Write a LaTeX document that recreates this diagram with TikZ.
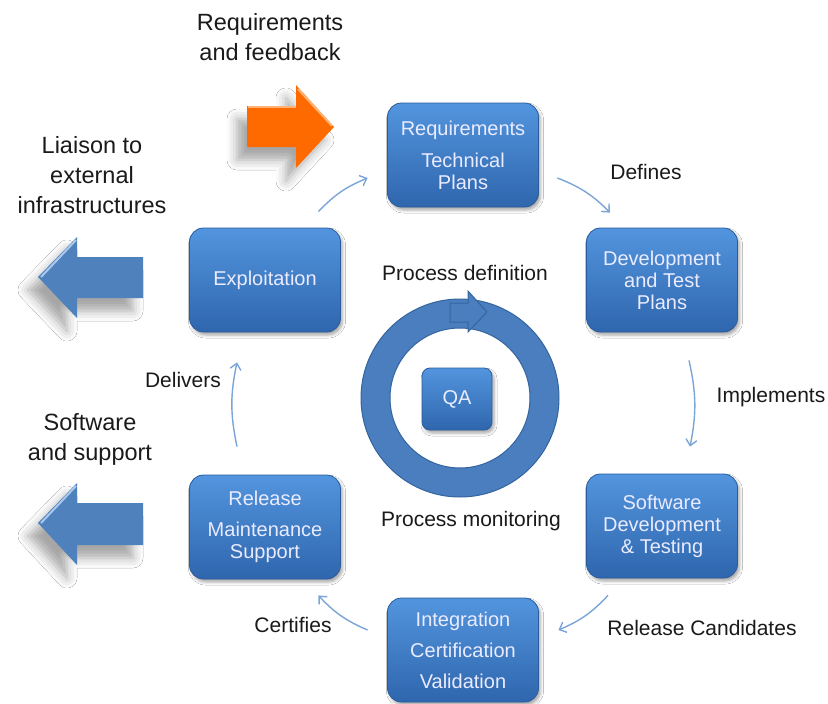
\documentclass[tikz,border=0pt]{standalone}
\usepackage{fontspec}
\setmainfont{Liberation Sans}
\usetikzlibrary{arrows.meta,shadows.blur}
\definecolor{boxtop}{HTML}{5295DE}
\definecolor{boxbot}{HTML}{2F66AD}
\definecolor{boxline}{HTML}{2A5C9C}
\definecolor{ringblue}{HTML}{4A7EBE}
\definecolor{ringline}{HTML}{35659F}
\definecolor{flowblue}{HTML}{7BA5D8}
\definecolor{bigblue}{HTML}{4F81BD}
\definecolor{bevelblue}{HTML}{A9C8EE}
\definecolor{bigorange}{HTML}{FF6A00}
\definecolor{bevelorange}{HTML}{FFB273}
\definecolor{notegray}{HTML}{1A1A1A}
\tikzset{
    stage/.style={rectangle, rounded corners=14pt, draw=boxline, line width=0.8pt, top color=boxtop, bottom color=boxbot, minimum width=151pt, minimum height=104pt, inner sep=0pt, align=center, text=white!92!blue, font=\fontsize{20}{22}\selectfont, blur shadow={shadow xshift=2pt, shadow yshift=-3pt, shadow blur radius=3pt, shadow opacity=35}},
    flow/.style={->, > = {Straight Barb[length=6pt, width=11pt]}, draw=flowblue, line width=1.4pt, bend left=12},
    note/.style={text=notegray, font=\fontsize{21}{24}\selectfont},
    biglabel/.style={text=notegray, align=center, font=\fontsize{23.5}{30}\selectfont},
    bigarrow/.style={blur shadow={shadow xshift=-10pt, shadow yshift=-13pt, shadow blur radius=10pt, shadow opacity=35}},
}
\begin{document}
\begin{tikzpicture}[x=1pt, y=-1pt]
    \fill[white] (0,0) rectangle (828,704);
    \useasboundingbox (0,0) rectangle (828,704);

    \node[stage] (req) at (463,155) {Requirements\\[10pt]Technical\\Plans};
    \node[stage] (dev) at (662,280) {Development\\and Test\\Plans};
    \node[stage] (swdev) at (662,526) {Software\\Development\\\& Testing};
    \node[stage] (integ) at (463,650) {Integration\\[9pt]Certification\\[9pt]Validation};
    \node[stage] (rel) at (265,527) {Release\\[9pt]Maintenance\\Support};
    \node[stage] (expl) at (265,280) {Exploitation};

    \fill[ringblue, draw=ringline, line width=1pt, even odd rule] (460,398) circle[radius=99] (460,398) circle[radius=70];
    \filldraw[fill=ringblue, draw=ringline, line width=1pt] (450,303) -- (468,303) -- (468,291) -- (487,312) -- (468,332) -- (468,322) -- (450,322) -- cycle;
    \node[stage, minimum width=70pt, minimum height=62pt, rounded corners=8pt] (qa) at (457,399) {QA};

    \fill[bigorange, bigarrow] (247,106) -- (296,106) -- (296,85) -- (334,127) -- (296,168) -- (296,147) -- (247,147) -- cycle;
    \draw[bevelorange, line width=2pt] (298,89) -- (332,126);
    \draw[bevelorange, line width=2pt] (248,107) -- (296,107);
    \fill[bigblue, bigarrow] (143,257) -- (77,257) -- (77,237) -- (38,277) -- (77,318) -- (77,298) -- (143,298) -- cycle;
    \draw[bevelblue, line width=2pt] (76,240) -- (41,277);
    \fill[bigblue, bigarrow] (143,503) -- (77,503) -- (77,483) -- (38,523) -- (77,565) -- (77,545) -- (143,545) -- cycle;
    \draw[bevelblue, line width=2pt] (76,486) -- (41,523);

    \draw[flow] ([xshift=-22.5pt,yshift=16pt]expl.north east) to ([xshift=-19.5pt,yshift=-23pt]req.west);
    \draw[flow] ([xshift=18.5pt,yshift=-23pt]req.east) to ([xshift=-52pt,yshift=15pt]dev.north);
    \draw[flow] ([xshift=27pt,yshift=-28pt]dev.south) to ([xshift=28pt,yshift=27pt]swdev.north);
    \draw[flow] ([xshift=-54pt,yshift=-17pt]swdev.south) to ([xshift=19.5pt,yshift=20pt]integ.east);
    \draw[flow] ([xshift=-19.5pt,yshift=20pt]integ.west) to ([xshift=-22.5pt,yshift=-16pt]rel.south east);
    \draw[flow] ([xshift=-28pt,yshift=28pt]rel.north) to ([xshift=-28pt,yshift=-30pt]expl.south);

    \node[biglabel] (feedback) at (270,37) {Requirements\\and feedback};
    \node[biglabel] (liaison) at (92,175) {Liaison to\\external\\infrastructures};
    \node[biglabel] (swsupport) at (90,439) {Software\\and support};
    \node[note] (defines) at (646,172) {Defines};
    \node[note] (implements) at (771,397) {Implements};
    \node[note] (candidates) at (702,628) {Release Candidates};
    \node[note] (certifies) at (293,625) {Certifies};
    \node[note] (delivers) at (183,380) {Delivers};
    \node[note] (procdef) at (465,273) {Process definition};
    \node[note] (procmon) at (471,521) {Process monitoring};
\end{tikzpicture}
\end{document}
